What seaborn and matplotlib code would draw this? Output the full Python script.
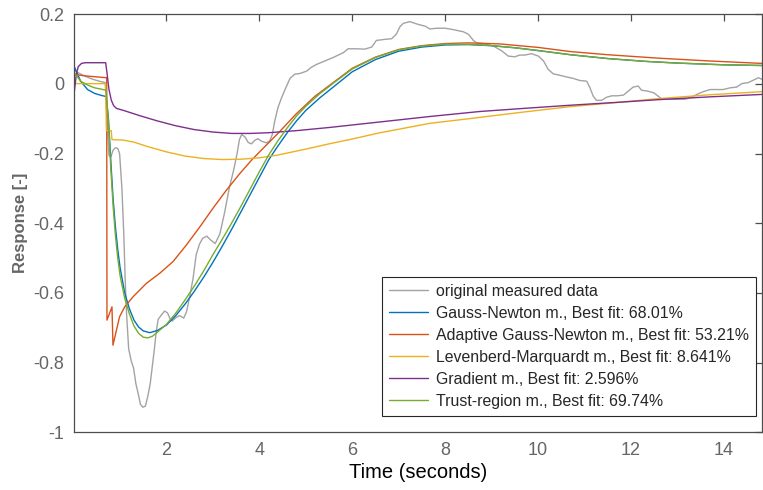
import matplotlib
matplotlib.use("Agg")
import matplotlib.pyplot as plt
import seaborn as sns

# ---------------------------------------------------------------------------
# Datos (tiempo en segundos, respuesta adimensional)
# ---------------------------------------------------------------------------
t_meas = [0.00, 0.10, 0.25, 0.40, 0.55, 0.68, 0.72, 0.76, 0.80, 0.85, 0.90, 0.95,
          0.99, 1.04, 1.08, 1.11, 1.14, 1.185, 1.24, 1.29, 1.34, 1.40, 1.44, 1.49,
          1.545, 1.60, 1.65, 1.69, 1.74, 1.78, 1.82, 1.88, 1.96, 2.02, 2.08, 2.12,
          2.19, 2.28, 2.37, 2.43, 2.50, 2.57, 2.64, 2.71, 2.78, 2.87, 2.95, 3.05,
          3.15, 3.25, 3.35, 3.45, 3.52, 3.57, 3.62, 3.69, 3.76, 3.83, 3.90, 3.97,
          4.04, 4.15, 4.22, 4.28, 4.33, 4.40, 4.48, 4.57, 4.66, 4.76, 4.87, 5.02,
          5.12, 5.23, 5.37, 5.48, 5.59, 5.70, 5.81, 5.91, 6.09, 6.27, 6.42, 6.52,
          6.70, 6.85, 6.95, 7.03, 7.10, 7.24, 7.42, 7.57, 7.67, 7.82, 8.00, 8.14,
          8.25, 8.39, 8.50, 8.61, 8.68, 8.82, 9.04, 9.22, 9.36, 9.50, 9.61, 9.72,
          9.86, 10.01, 10.12, 10.22, 10.33, 10.47, 10.62, 10.76, 10.90, 11.05, 11.12,
          11.19, 11.26, 11.37, 11.48, 11.59, 11.70, 11.84, 11.95, 12.05, 12.16, 12.23,
          12.34, 12.49, 12.59, 12.67, 12.92, 13.17, 13.31, 13.42, 13.56, 13.71, 13.99,
          14.14, 14.28, 14.39, 14.53, 14.64, 14.75, 14.83]
y_meas = [0.040, 0.032, 0.022, 0.014, 0.008, 0.004, -0.100, -0.205, -0.210, -0.190, -0.183, -0.185,
          -0.200, -0.300, -0.430, -0.560, -0.660, -0.760, -0.795, -0.815, -0.860, -0.895, -0.920, -0.928,
          -0.925, -0.895, -0.860, -0.815, -0.760, -0.710, -0.676, -0.665, -0.652, -0.657, -0.675, -0.681,
          -0.672, -0.665, -0.672, -0.655, -0.610, -0.560, -0.490, -0.460, -0.443, -0.437, -0.448, -0.458,
          -0.430, -0.370, -0.300, -0.245, -0.200, -0.160, -0.145, -0.152, -0.168, -0.172, -0.162, -0.157,
          -0.164, -0.169, -0.164, -0.145, -0.107, -0.068, -0.039, -0.011, 0.016, 0.028, 0.030, 0.037,
          0.048, 0.056, 0.064, 0.070, 0.076, 0.083, 0.090, 0.101, 0.101, 0.100, 0.106, 0.125,
          0.128, 0.130, 0.143, 0.165, 0.174, 0.179, 0.171, 0.166, 0.158, 0.160, 0.160, 0.157,
          0.154, 0.150, 0.143, 0.125, 0.118, 0.116, 0.109, 0.095, 0.080, 0.078, 0.083, 0.083,
          0.087, 0.080, 0.066, 0.042, 0.029, 0.025, 0.020, 0.016, 0.010, 0.008, -0.011,
          -0.035, -0.047, -0.047, -0.038, -0.034, -0.034, -0.032, -0.020, -0.009, -0.006, -0.018,
          -0.020, -0.025, -0.035, -0.044, -0.044, -0.044, -0.038, -0.030, -0.022, -0.016, -0.016,
          -0.011, -0.009, 0.001, 0.004, 0.011, 0.018, 0.013]

t_gn = [0.00, 0.15, 0.30, 0.45, 0.60, 0.70, 0.75, 0.80, 0.85, 0.90, 0.95, 1.00, 1.10,
        1.20, 1.30, 1.40, 1.50, 1.64, 1.80, 2.00, 2.20, 2.40, 2.60, 2.80, 3.00, 3.20,
        3.40, 3.60, 3.80, 4.00, 4.20, 4.40, 4.60, 4.80, 5.00, 5.30, 5.60, 6.00, 6.50,
        7.00, 7.50, 8.00, 8.50, 9.00, 9.50, 10.00, 10.70, 11.50, 12.30, 13.00, 14.00, 14.83]
y_gn = [0.054, 0.008, -0.016, -0.027, -0.033, -0.036, -0.100, -0.220, -0.330, -0.410, -0.475, -0.527, -0.600,
        -0.645, -0.678, -0.698, -0.709, -0.714, -0.708, -0.692, -0.665, -0.632, -0.595, -0.555, -0.512, -0.466,
        -0.418, -0.368, -0.318, -0.268, -0.218, -0.178, -0.140, -0.106, -0.076, -0.040, -0.008, 0.035, 0.070,
        0.094, 0.106, 0.112, 0.113, 0.110, 0.104, 0.096, 0.084, 0.073, 0.065, 0.060, 0.055, 0.053]

t_agn = [0.00, 0.35, 0.70, 0.712, 0.718, 0.826, 0.847, 0.99, 1.10, 1.28, 1.57, 1.85,
         2.14, 2.43, 2.72, 3.00, 3.29, 3.58, 3.85, 4.19, 4.40, 4.80, 5.20, 5.60, 6.00,
         6.50, 7.00, 7.50, 8.00, 8.50, 9.18, 10.00, 10.70, 11.50, 12.60, 13.70, 14.83]
y_agn = [0.027, 0.022, 0.018, 0.018, -0.678, -0.640, -0.750, -0.668, -0.640, -0.611, -0.572, -0.544,
         -0.510, -0.462, -0.410, -0.357, -0.305, -0.257, -0.216, -0.170, -0.142, -0.085, -0.035, 0.005, 0.045,
         0.077, 0.099, 0.110, 0.116, 0.118, 0.115, 0.105, 0.093, 0.084, 0.074, 0.066, 0.059]

t_lm = [0.00, 0.40, 0.69, 0.705, 0.81, 0.825, 0.847, 1.06, 1.30, 1.60, 2.00, 2.40, 2.80,
        3.20, 3.60, 4.00, 4.40, 5.00, 5.50, 6.00, 6.60, 7.00, 7.67, 8.50, 9.60, 10.70,
        11.80, 12.60, 13.70, 14.83]
y_lm = [0.001, 0.001, 0.001, -0.134, -0.134, -0.159, -0.160, -0.161, -0.167, -0.180, -0.195, -0.207, -0.214,
        -0.217, -0.216, -0.212, -0.204, -0.187, -0.172, -0.158, -0.140, -0.130, -0.113, -0.100, -0.082, -0.065,
        -0.052, -0.042, -0.031, -0.022]

t_grad = [0.00, 0.03, 0.06, 0.10, 0.17, 0.25, 0.69, 0.72, 0.76, 0.81, 0.86, 0.92, 1.10,
          1.40, 1.80, 2.20, 2.60, 3.00, 3.40, 3.80, 4.20, 4.80, 5.50, 6.60, 7.70, 8.75,
          9.60, 10.70, 11.80, 12.60, 13.70, 14.83]
y_grad = [-0.040, -0.005, 0.030, 0.050, 0.059, 0.061, 0.061, 0.030, -0.015, -0.046, -0.062, -0.070, -0.077,
          -0.090, -0.106, -0.120, -0.131, -0.138, -0.142, -0.142, -0.140, -0.134, -0.125, -0.109, -0.093, -0.079,
          -0.071, -0.061, -0.052, -0.045, -0.037, -0.030]

t_tr = [0.00, 0.15, 0.30, 0.45, 0.60, 0.70, 0.75, 0.80, 0.85, 0.90, 0.95, 1.00, 1.10,
        1.20, 1.30, 1.40, 1.50, 1.60, 1.70, 1.80, 2.00, 2.20, 2.40, 2.60, 2.80, 3.00,
        3.20, 3.40, 3.60, 3.80, 4.00, 4.20, 4.40, 4.60, 4.80, 5.00, 5.30, 5.60, 6.00,
        6.50, 7.00, 7.50, 8.00, 8.50, 9.00, 9.50, 10.00, 10.70, 11.50, 12.30, 13.00, 14.00, 14.83]
y_tr = [0.035, 0.008, -0.003, -0.011, -0.015, -0.018, -0.110, -0.240, -0.350, -0.435, -0.500, -0.550, -0.615,
        -0.660, -0.695, -0.716, -0.727, -0.729, -0.724, -0.713, -0.690, -0.658, -0.620, -0.580, -0.537, -0.490,
        -0.446, -0.400, -0.352, -0.302, -0.252, -0.204, -0.163, -0.126, -0.092, -0.064, -0.028, 0.003, 0.043,
        0.076, 0.098, 0.109, 0.114, 0.114, 0.110, 0.104, 0.096, 0.084, 0.073, 0.065, 0.060, 0.055, 0.053]

labels = ["original measured data",
          "Gauss-Newton m., Best fit: 68.01%",
          "Adaptive Gauss-Newton m., Best fit: 53.21%",
          "Levenberd-Marquardt m., Best fit: 8.641%",
          "Gradient m., Best fit: 2.596%",
          "Trust-region m., Best fit: 69.74%"]
colors = ["#a3a3a3", "#0072BD", "#D95319", "#EDB120", "#7E2F8E", "#77AC30"]

x_ticks = [2, 4, 6, 8, 10, 12, 14]
y_ticks = [-1.0, -0.8, -0.6, -0.4, -0.2, 0.0, 0.2]
y_ticklabels = ["-1", "-0.8", "-0.6", "-0.4", "-0.2", "0", "0.2"]

# ---------------------------------------------------------------------------
# Estilo (tipo MATLAB)
# ---------------------------------------------------------------------------
sns.set_style("white")
plt.rcParams["font.family"] = ["Liberation Sans", "DejaVu Sans"]

fig = plt.figure(figsize=(7.63, 4.90), dpi=100)
ax = fig.add_axes([0.0965, 0.1178, 0.9025, 0.853])

series = [(t_meas, y_meas), (t_gn, y_gn), (t_agn, y_agn),
          (t_lm, y_lm), (t_grad, y_grad), (t_tr, y_tr)]
for (tx, ty), lab, col in zip(series, labels, colors):
    sns.lineplot(x=tx, y=ty, ax=ax, color=col, label=lab, linewidth=1.0,
                 estimator=None, sort=False)

ax.set_xlim(0, 14.83)
ax.set_ylim(-1, 0.2)
ax.set_xticks(x_ticks)
ax.set_yticks(y_ticks)
ax.set_yticklabels(y_ticklabels)

for sp in ax.spines.values():
    sp.set_color("#4d4d4d")
    sp.set_linewidth(0.9)
ax.tick_params(direction="in", length=5, width=0.9, color="#4d4d4d",
               labelcolor="#666666", labelsize=13, top=True, right=True)
ax.tick_params(axis="y", pad=6.5)
ax.tick_params(axis="x", pad=7)

ax.set_xlabel("Time (seconds)", fontsize=14.5, color="black", labelpad=3)
ax.set_ylabel("Response [-]", fontsize=12, fontweight="bold", color="#666666", labelpad=4)

leg = ax.legend(loc="lower right", bbox_to_anchor=(0.991, 0.039), borderaxespad=0,
                fontsize=11.4, frameon=True, fancybox=False, framealpha=1,
                edgecolor="#262626", handlelength=2.45, handletextpad=0.5,
                labelspacing=0.44, borderpad=0.45)
leg.get_frame().set_linewidth(0.8)

fig.savefig("out.png", dpi=100, facecolor="white")
